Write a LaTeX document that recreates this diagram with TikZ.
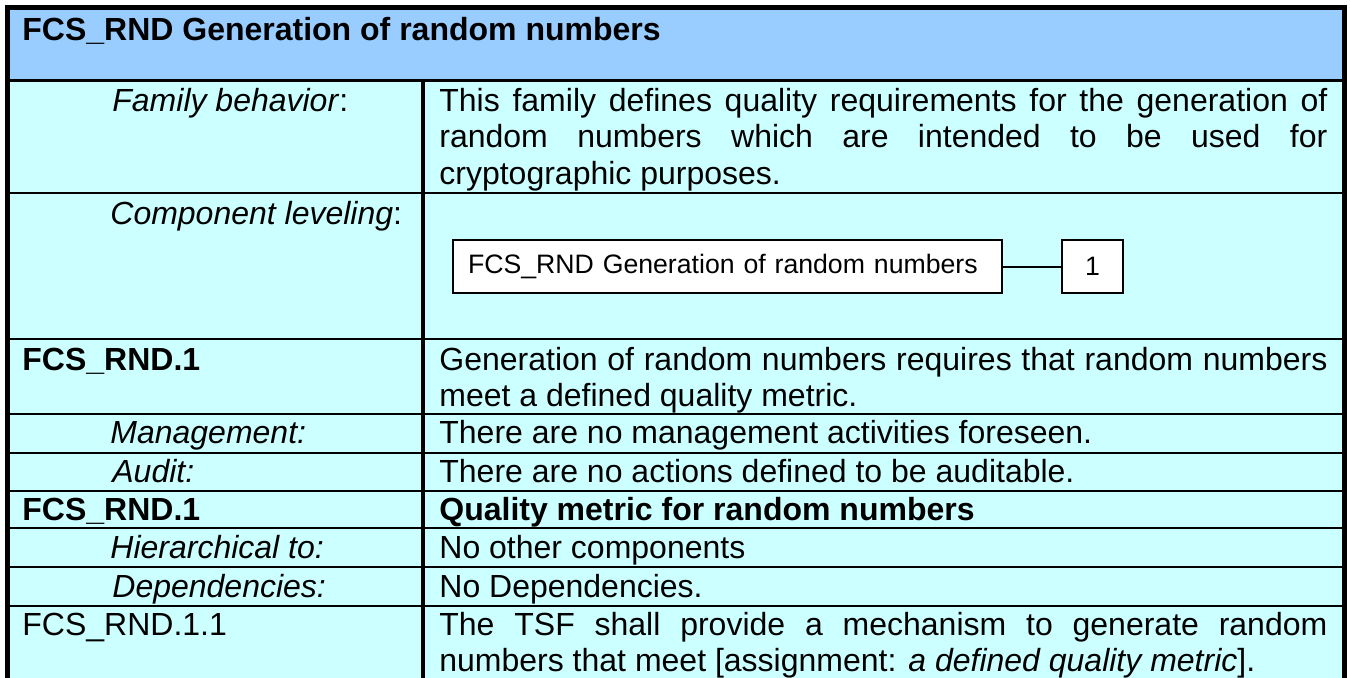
\documentclass[tikz,border=0pt]{standalone}
\usepackage{fontspec}
\setmainfont{Liberation Sans}[HyphenChar=None]
\definecolor{hdrblue}{HTML}{99CCFF}
\definecolor{bodycyan}{HTML}{CCFFFF}
\tolerance=9999
\begin{document}
\begin{tikzpicture}[x=0.5pt,y=-0.5pt,
  txt/.style={inner sep=0pt, anchor=base west, font=\fontsize{16}{18.35}\selectfont},
  bld/.style={txt, font=\fontsize{16}{18.35}\selectfont\bfseries},
  lbl/.style={txt, font=\fontsize{16}{18.35}\selectfont\itshape},
  para/.style={txt, text width=444pt, align=justify},
  cbox/.style={draw, line width=1pt, fill=white, minimum height=26.5pt, inner xsep=7.5pt, inner ysep=0pt, font=\fontsize{13.33}{15.33}\selectfont},
  rowline/.style={line width=1.2pt},
  border/.style={line width=2.5pt}
]
\useasboundingbox (0,0) rectangle (1350,677);
\clip (0,0) rectangle (1350,677);
% fills
\fill[hdrblue] (7,7) rectangle (1345,80);
\fill[bodycyan] (7,80) rectangle (1345,700);
% horizontal rules
\draw[line width=1.5pt] (7,80) -- (1345,80);
\foreach \yy in {193,339,414,453,491,528,567,606}
  \draw[rowline] (7,\yy) -- (1345,\yy);
% column divider
\draw[line width=1.8pt] (423,80) -- (423,700);
% outer border
\draw[border] (7.5,700) -- (7.5,7.5) -- (1344.5,7.5) -- (1344.5,700);

% header
\node[bld] (title) at (22,40) {FCS\_RND Generation of random numbers};

% family behavior
\node[txt] (famlbl) at (112,111) {\textit{Family behavior}:};
\node[para] (famtxt) at (439,111) {This family defines quality requirements for the generation of\linebreak random numbers which are intended to be used for\linebreak cryptographic purposes.};

% component leveling
\node[txt] (complbl) at (110,224) {\textit{Component leveling}:};
\node[cbox, text width=259.5pt, align=left] (comp) at (727.5,266.5) {FCS\_RND Generation of random numbers};
\node[cbox, minimum width=30.5pt] (one) at (1092.5,266.5) {1};
\draw[line width=1pt] (comp.east) -- (one.west);

% FCS_RND.1
\node[bld] (c1lbl) at (22,370) {FCS\_RND.1};
\node[para] (c1txt) at (439,370) {Generation of random numbers requires that random numbers\linebreak meet a defined quality metric.};

% management
\node[lbl] (mgmtlbl) at (110,443) {Management:};
\node[txt] (mgmttxt) at (439,443) {There are no management activities foreseen.};

% audit
\node[lbl] (audlbl) at (112,482) {Audit:};
\node[txt] (audtxt) at (439,482) {There are no actions defined to be auditable.};

% component title
\node[bld] (c2lbl) at (22,520) {FCS\_RND.1};
\node[bld] (c2txt) at (439,520) {Quality metric for random numbers};

% hierarchical
\node[lbl] (hierlbl) at (110,558) {Hierarchical to:};
\node[txt] (hiertxt) at (439,558) {No other components};

% dependencies
\node[lbl] (deplbl) at (112,597) {Dependencies:};
\node[txt] (deptxt) at (439,597) {No Dependencies.};

% element
\node[txt] (ellbl) at (22,635) {FCS\_RND.1.1};
\node[para] (eltxt) at (439,635) {The TSF shall provide a mechanism to generate random\linebreak numbers that meet [assignment: \textit{a defined quality metric}].};
\end{tikzpicture}
\end{document}
